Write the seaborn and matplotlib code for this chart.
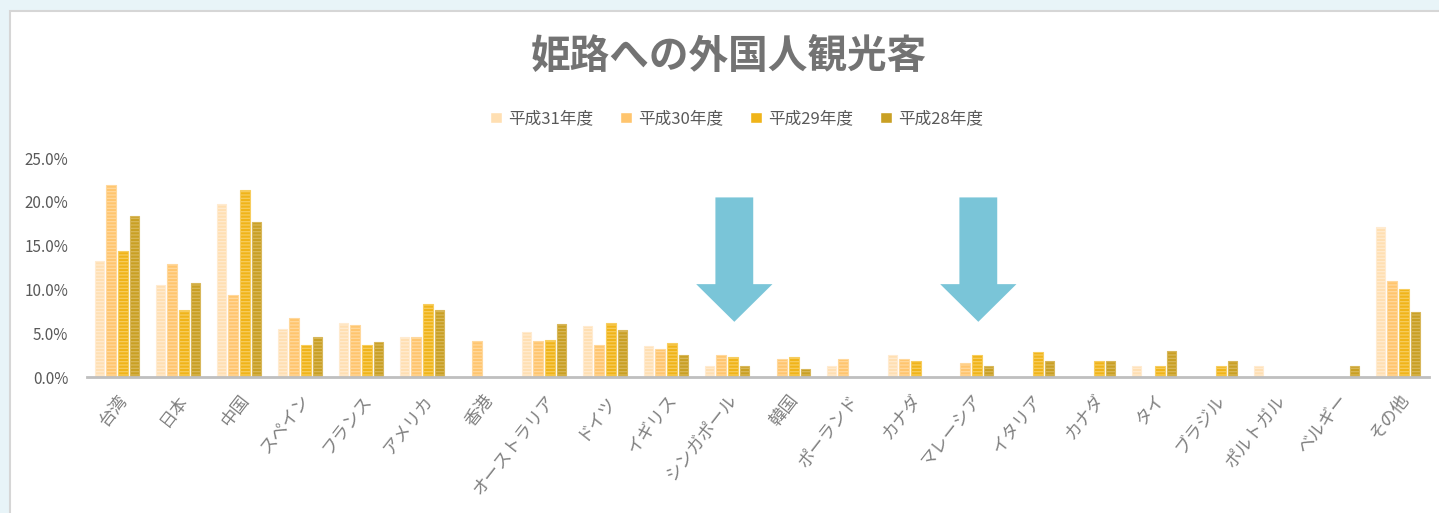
import numpy as np
import pandas as pd
import matplotlib
matplotlib.use("Agg")
import matplotlib.pyplot as plt
from matplotlib.patches import Rectangle, FancyArrow
from matplotlib.ticker import FuncFormatter
import seaborn as sns

# ---------------- data ----------------
categories = ["台湾", "日本", "中国", "スペイン", "フランス", "アメリカ", "香港",
              "オーストラリア", "ドイツ", "イギリス", "シンガポール", "韓国",
              "ポーランド", "カナダ", "マレーシア", "イタリア", "カナダ", "タイ",
              "ブラジル", "ポルトガル", "ベルギー", "その他"]
series_names = ["平成31年度", "平成30年度", "平成29年度", "平成28年度"]
nan = np.nan
h31 = [13.2, 10.5, 19.8, 5.5, 6.2, 4.6, nan, 5.1, 5.8, 3.5, 1.3, nan,
       1.3, 2.5, nan, nan, nan, 1.3, nan, 1.3, nan, 17.1]
h30 = [21.9, 12.9, 9.4, 6.7, 5.9, 4.6, 4.1, 4.1, 3.7, 3.2, 2.5, 2.0,
       2.0, 2.0, 1.6, nan, nan, nan, nan, nan, nan, 11.0]
h29 = [14.4, 7.6, 21.4, 3.6, 3.6, 8.3, nan, 4.2, 6.2, 3.9, 2.3, 2.3,
       nan, 1.8, 2.5, 2.8, 1.8, 1.3, 1.3, nan, nan, 10.0]
h28 = [18.4, 10.7, 17.7, 4.6, 4.0, 7.6, nan, 6.0, 5.4, 2.5, 1.3, 0.9,
       nan, nan, 1.3, 1.8, 1.8, 3.0, 1.8, nan, 1.3, 7.4]
y_ticks = [0, 5, 10, 15, 20, 25]
title = "姫路への外国人観光客"
arrow_targets = ["シンガポール", "マレーシア"]

# ---------------- styling ----------------
colors = ["#FFDFB2", "#FFC56E", "#F0B419", "#C9A024"]
hatch_colors = ["#FFEBD0", "#FFD89C", "#F7CD5E", "#D8B75A"]
text_gray = "#595959"
arrow_color = "#7AC5D8"

sns.set_theme(style="white")
plt.rcParams["font.family"] = ["Noto Sans CJK JP", "DejaVu Sans"]
plt.rcParams["hatch.linewidth"] = 0.9

rows = []
for name, vals in zip(series_names, [h31, h30, h29, h28]):
    for i, v in enumerate(vals):
        if not np.isnan(v):
            rows.append({"pos": i, "series": name, "value": v})
df = pd.DataFrame(rows)

fig = plt.figure(figsize=(14.39, 5.13), dpi=100)
fig.patch.set_facecolor("#E8F4F8")
fig.patches.append(Rectangle((10 / 1439, -0.1), 1.2, 1.1 - 11 / 513,
                             transform=fig.transFigure, facecolor="white",
                             edgecolor="#D6D6D6", linewidth=1.5, zorder=-5))

ax = fig.add_axes([86.5 / 1439, 1 - 377 / 513, (1428.5 - 86.5) / 1439, 219 / 513])
ax.set_facecolor("none")
ax.set_zorder(2)

sns.barplot(data=df, x="pos", y="value", hue="series", hue_order=series_names,
            order=list(range(len(categories))), palette=colors, saturation=1,
            width=0.76, gap=0.18, ax=ax, errorbar=None, legend=True)

# hatch stripe styling per series
for cont, hc in zip(ax.containers, hatch_colors):
    for p in cont:
        p.set_hatch("-----")
        p.set_edgecolor(hc)
        p.set_linewidth(0.8)

ax.set_xlim(-0.5, len(categories) - 0.5)
ax.set_ylim(0, 25)
ax.set_yticks(y_ticks)
ax.yaxis.set_major_formatter(FuncFormatter(lambda v, _: f"{v:.1f}%"))
ax.set_xticks(range(len(categories)))
ax.set_xticklabels(categories, rotation=52, ha="right", rotation_mode="anchor",
                   fontsize=12.5, color="#808080")
ax.tick_params(axis="y", labelsize=11, labelcolor=text_gray, length=0, pad=13)
ax.tick_params(axis="x", length=0, pad=10)
ax.set_xlabel("")
ax.set_ylabel("")
for s in ["top", "right", "left"]:
    ax.spines[s].set_visible(False)
ax.spines["bottom"].set_color("#BFBFBF")
ax.spines["bottom"].set_linewidth(2)

# arrows
for t in arrow_targets:
    xc = categories.index(t) + 0.12
    ax.add_patch(FancyArrow(xc, 20.5, 0, -14.2, width=0.62, head_width=1.25,
                            head_length=4.3, length_includes_head=True,
                            color=arrow_color, linewidth=0, zorder=5))

# legend
handles, labels = ax.get_legend_handles_labels()
ax.get_legend().remove()
fig.legend(handles, labels, loc="center", bbox_to_anchor=(0.512, 1 - 119 / 513),
           ncol=4, frameon=False, fontsize=12, handlelength=0.7, handleheight=0.7,
           handletextpad=0.4, columnspacing=1.6, labelcolor=text_gray)

fig.text(0.5065, 1 - 57 / 513, title, ha="center", va="center", fontsize=28.5,
         fontweight="bold", color="#737373")

fig.savefig("out.png", dpi=100, facecolor=fig.get_facecolor())
